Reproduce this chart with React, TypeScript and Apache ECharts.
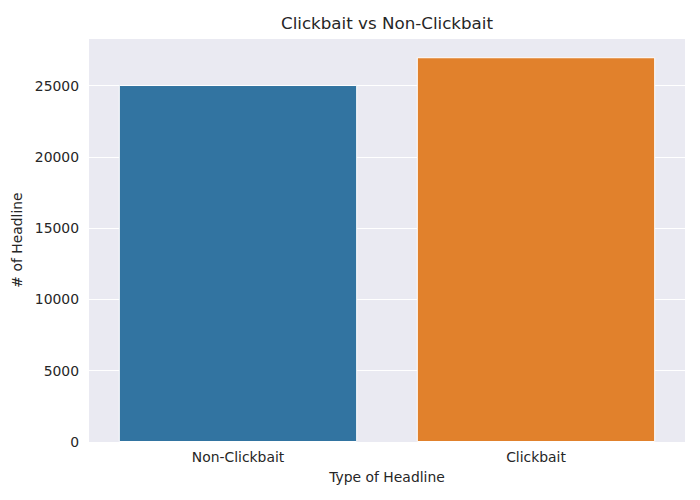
import React, { useEffect, useRef } from "react";
import * as echarts from "echarts";

const categories = ["Non-Clickbait", "Clickbait"];
const counts = [25050, 27000];
const barColors = ["#3274A1", "#E1812C"];
const yTicks = [0, 5000, 10000, 15000, 20000, 25000];

const FONT = "DejaVu Sans";
const TEXT = "#262626";

export default function App() {
  const ref = useRef<HTMLDivElement>(null);
  useEffect(() => {
    if (!ref.current) return;
    const chart = echarts.init(ref.current, undefined, { renderer: "svg" });
    const yMax = Math.max(...counts) * 1.05;
    chart.setOption({
      animation: false,
      graphic: [
        {
          type: "text",
          left: 386 - 105,
          top: 14,
          style: {
            text: "Clickbait vs Non-Clickbait",
            fontFamily: FONT,
            fontSize: 16.7,
            fill: TEXT,
            width: 210,
            align: "center",
          },
        },
      ],
      grid: {
        left: 89,
        right: 15,
        top: 38,
        bottom: 58,
        show: true,
        backgroundColor: "#EAEAF2",
        borderWidth: 0,
      },
      xAxis: {
        type: "category",
        data: categories,
        name: "Type of Headline",
        nameLocation: "middle",
        nameGap: 28,
        nameTextStyle: { fontFamily: FONT, fontSize: 13.9, color: TEXT },
        axisLine: { show: false },
        axisTick: { show: false },
        axisLabel: {
          fontFamily: FONT,
          fontSize: 13.9,
          color: TEXT,
          margin: 8,
        },
      },
      yAxis: {
        type: "value",
        min: 0,
        max: yMax,
        interval: 5000,
        name: "# of Headline",
        nameLocation: "middle",
        nameGap: 58,
        nameTextStyle: { fontFamily: FONT, fontSize: 13.9, color: TEXT },
        axisLine: { show: false },
        axisTick: { show: false },
        splitLine: { lineStyle: { color: "#FFFFFF", width: 1 } },
        axisLabel: {
          fontFamily: FONT,
          fontSize: 13.9,
          color: TEXT,
          margin: 10,
          showMaxLabel: false,
          formatter: (v: number) => (yTicks.includes(v) ? String(v) : ""),
        },
      },
      series: [
        {
          type: "bar",
          data: counts.map((v, i) => ({
            value: v,
            itemStyle: { color: barColors[i] },
          })),
          barCategoryGap: "20%",
          itemStyle: { borderColor: "#FFFFFF", borderWidth: 1 },
        },
      ],
    });
    return () => chart.dispose();
  }, []);
  return (
    <div
      ref={ref}
      style={{ position: "absolute", left: 0, top: 0, width: 700, height: 500 }}
    />
  );
}
